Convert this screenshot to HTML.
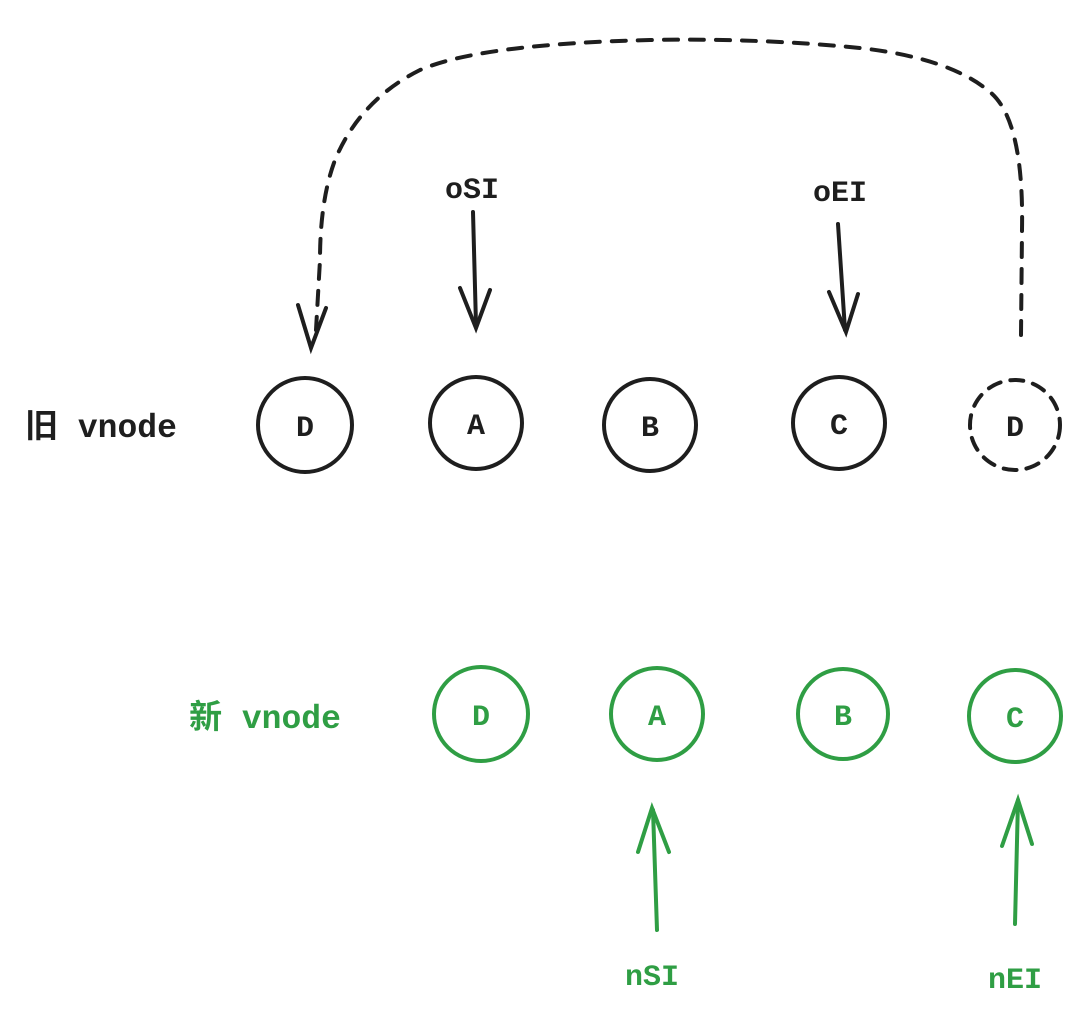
<!DOCTYPE html>
<html><head><meta charset="utf-8"><style>
html,body{margin:0;padding:0;background:#fff}
svg{display:block}
text{font-family:"Liberation Mono","Noto Sans CJK SC",monospace;font-size:30px;font-weight:bold}
.lbl{font-size:33px}
</style></head><body>
<svg width="1080" height="1022" viewBox="0 0 1080 1022" xmlns="http://www.w3.org/2000/svg">
<g fill="none" stroke="#1e1e1e" stroke-width="4" stroke-linecap="round">
  <path d="M1021 335 L1022 230 Q1024 120 990 92 Q950 58 860 48 Q760 38 650 40 Q480 44 420 70 Q360 100 335 160 Q320 200 320 260 L316 330" stroke-dasharray="14 12"/>
  <path d="M298 305 L311 348 L326 308"/>
  <path d="M473 212 L476 325"/>
  <path d="M460 288 L476 328 L490 290"/>
  <path d="M838 224 L845 330"/>
  <path d="M829 292 L846 332 L858 294"/>
  <circle cx="305" cy="425" r="47"/>
  <circle cx="476" cy="423" r="46"/>
  <circle cx="650" cy="425" r="46"/>
  <circle cx="839" cy="423" r="46"/>
  <circle cx="1015" cy="425" r="45" stroke-dasharray="13 10"/>
</g>
<g fill="#1e1e1e" text-anchor="middle">
  <text x="305" y="436">D</text>
  <text x="476" y="434">A</text>
  <text x="650" y="436">B</text>
  <text x="839" y="434">C</text>
  <text x="1015" y="436">D</text>
  <text x="472" y="198">oSI</text>
  <text x="840" y="201">oEI</text>
  <text class="lbl" x="101" y="437">旧 vnode</text>
</g>
<g fill="none" stroke="#2f9e44" stroke-width="4" stroke-linecap="round">
  <circle cx="481" cy="714" r="47"/>
  <circle cx="657" cy="714" r="46"/>
  <circle cx="843" cy="714" r="45"/>
  <circle cx="1015" cy="716" r="46"/>
  <path d="M657 930 L653 810"/>
  <path d="M638 852 L652 808 L669 852"/>
  <path d="M1015 924 L1018 800"/>
  <path d="M1002 846 L1018 800 L1032 844"/>
</g>
<g fill="#2f9e44" text-anchor="middle">
  <text x="481" y="725">D</text>
  <text x="657" y="725">A</text>
  <text x="843" y="725">B</text>
  <text x="1015" y="727">C</text>
  <text x="652" y="985">nSI</text>
  <text x="1015" y="988">nEI</text>
  <text class="lbl" x="265" y="728">新 vnode</text>
</g>
</svg>
</body></html>
